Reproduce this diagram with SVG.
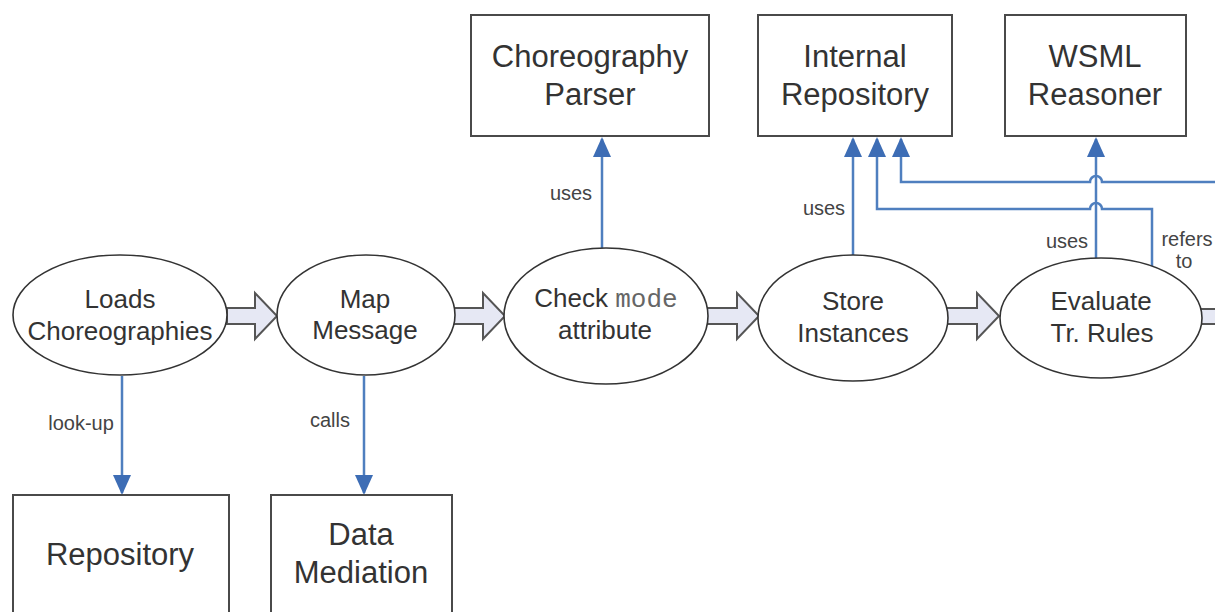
<svg xmlns="http://www.w3.org/2000/svg" width="1215" height="612" viewBox="0 0 1215 612">
<style>
.bg{fill:#ffffff}
.box{fill:#ffffff;stroke:#4a4a4a;stroke-width:2}
.ell{fill:#ffffff;stroke:#333333;stroke-width:1.6}
.t{font-family:"Liberation Sans",Arial,sans-serif;fill:#333333;text-anchor:middle}
.bt{font-size:31px}
.et{font-size:26px}
.lbl{font-family:"Liberation Sans",Arial,sans-serif;font-size:20px;fill:#444444;text-anchor:middle}
.mono{font-family:"Liberation Mono","Courier New",monospace;fill:#666666}
.con{fill:none;stroke:#4f7fbf;stroke-width:2.5}
.fat{fill:#e6e8f4;stroke:#555555;stroke-width:2;stroke-linejoin:miter}
</style>
<defs>
<marker id="ah" markerUnits="userSpaceOnUse" markerWidth="20" markerHeight="24" viewBox="0 0 20 24" refX="18" refY="10" orient="auto">
<path d="M0,1 L20,10 L0,19 Z" fill="#3d6db5"/>
</marker>
</defs>
<rect class="bg" x="0" y="0" width="1215" height="612"/>

<g id="connectors">
<path class="con" d="M122,376 V493" marker-end="url(#ah)"/>
<path class="con" d="M364,376 V493" marker-end="url(#ah)"/>
<path class="con" d="M602,249 V139" marker-end="url(#ah)"/>
<path class="con" d="M853,255 V139" marker-end="url(#ah)"/>
<path class="con" d="M1096,258 V139" marker-end="url(#ah)"/>
<path class="con" d="M1152,266 V209 H1102 A6,6 0 0 0 1090,209 H877 V139" marker-end="url(#ah)"/>
<path class="con" d="M1216,182 H1102 A6,6 0 0 0 1090,182 H901 V139" marker-end="url(#ah)"/>
<text class="lbl" x="81" y="430">look-up</text>
<text class="lbl" x="330" y="427">calls</text>
<text class="lbl" x="571" y="200">uses</text>
<text class="lbl" x="824" y="215">uses</text>
<text class="lbl" x="1067" y="248">uses</text>
<text class="lbl" x="1187" y="246">refers</text>
<text class="lbl" x="1184" y="268">to</text>
</g>

<g id="flow-arrows">
<path class="fat" d="M227,308 H255 V293 L277,316 L255,339 V324 H227 Z"/>
<path class="fat" d="M454,308 H483 V293 L505,316 L483,339 V324 H454 Z"/>
<path class="fat" d="M706,308 H737 V293 L759,316 L737,339 V324 H706 Z"/>
<path class="fat" d="M946,308 H977 V293 L999,316 L977,339 V324 H946 Z"/>
<path class="fat" d="M1200,309 H1230 V324 H1200 Z"/>
</g>

<g id="loads">
<ellipse class="ell" cx="120" cy="315" rx="107" ry="60"/>
<text class="t et" x="120" y="308">Loads</text>
<text class="t et" x="120" y="340">Choreographies</text>
</g>
<g id="map">
<ellipse class="ell" cx="366" cy="315" rx="89" ry="60"/>
<text class="t et" x="365" y="308">Map</text>
<text class="t et" x="365" y="339">Message</text>
</g>
<g id="check">
<ellipse class="ell" cx="606" cy="316" rx="102" ry="68"/>
<text class="t et" x="606" y="307">Check <tspan class="mono">mode</tspan></text>
<text class="t et" x="605" y="339">attribute</text>
</g>
<g id="store">
<ellipse class="ell" cx="853" cy="318" rx="95" ry="63"/>
<text class="t et" x="853" y="310">Store</text>
<text class="t et" x="853" y="342">Instances</text>
</g>
<g id="evaluate">
<ellipse class="ell" cx="1101" cy="318" rx="101" ry="60"/>
<text class="t et" x="1101" y="310">Evaluate</text>
<text class="t et" x="1102" y="342">Tr. Rules</text>
</g>

<g id="choreography-parser">
<rect class="box" x="471" y="15" width="238" height="121"/>
<text class="t bt" x="590" y="67">Choreography</text>
<text class="t bt" x="590" y="105">Parser</text>
</g>
<g id="internal-repository">
<rect class="box" x="758" y="15" width="194" height="121"/>
<text class="t bt" x="855" y="67">Internal</text>
<text class="t bt" x="855" y="105">Repository</text>
</g>
<g id="wsml-reasoner">
<rect class="box" x="1005" y="15" width="181" height="121"/>
<text class="t bt" x="1095" y="67">WSML</text>
<text class="t bt" x="1095" y="105">Reasoner</text>
</g>
<g id="repository">
<rect class="box" x="13" y="495" width="216" height="130"/>
<text class="t bt" x="120" y="565">Repository</text>
</g>
<g id="data-mediation">
<rect class="box" x="271" y="495" width="181" height="130"/>
<text class="t bt" x="361" y="545">Data</text>
<text class="t bt" x="361" y="583">Mediation</text>
</g>
</svg>
